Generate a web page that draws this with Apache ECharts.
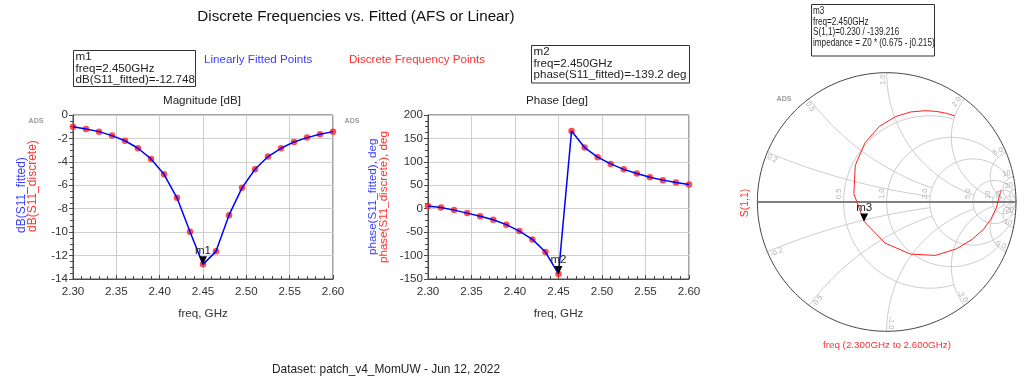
<!DOCTYPE html>
<html><head><meta charset="utf-8">
<script src="https://cdn.jsdelivr.net/npm/echarts@6/dist/echarts.min.js"></script>
<style>html,body{margin:0;padding:0;background:#fff}#c{width:1024px;height:385px}</style>
</head><body><div id="c"></div>
<script>
// ---------------- data ----------------
const freqGHz = [2.300,2.315,2.330,2.345,2.360,2.375,2.390,2.405,2.420,2.435,2.450,2.465,2.480,2.495,2.510,2.525,2.540,2.555,2.570,2.585,2.600];
const magDb = [-1.00,-1.20,-1.42,-1.76,-2.20,-2.84,-3.75,-5.06,-7.07,-9.97,-12.75,-11.64,-8.55,-6.22,-4.63,-3.55,-2.84,-2.30,-1.93,-1.65,-1.42];
const phaseDeg = [6.0,2.6,-3.0,-9.4,-16.0,-23.6,-34.0,-47.7,-65.5,-92.5,-139.2,166.0,130.5,110.0,95.6,84.0,75.0,67.0,61.0,56.0,51.6];
const markerFreq = 2.450;
const magAxis = {min:-14, max:0, interval:2};
const phaseAxis = {min:-150, max:200, interval:50};
const freqAxis = {min:2.30, max:2.60, interval:0.05};
const smithRCircles = [0.5, 1, 2, 5, 10, 20];
const smithRLimit = [2, 5, 10, 20, Infinity, Infinity];
const smithXArcs = [0.2, 0.5, 1, 2, 5, 10, 20];
const smithXLimit = [2, 2, 5, 10, 20, Infinity, Infinity];
const marker1Text = 'm1\nfreq=2.450GHz\ndB(S11_fitted)=-12.748';
const marker2Text = 'm2\nfreq=2.450GHz\nphase(S11_fitted)=-139.2 deg';
const marker3Text = 'm3\nfreq=2.450GHz\nS(1,1)=0.230 / -139.216\nimpedance = Z0 * (0.675 - j0.215)';

// ---------------- helpers ----------------
const FONT = '"Liberation Sans", Arial, sans-serif';
const BLUE = '#0000ff', RED = '#ff2020';
const mIdx = freqGHz.findIndex(f => Math.abs(f - markerFreq) < 1e-9);
const magPts = freqGHz.map((f,i) => [f, magDb[i]]);
const phPts = freqGHz.map((f,i) => [f, phaseDeg[i]]);
const s11Pts = freqGHz.map((f,i) => {
  const m = Math.pow(10, magDb[i]/20), a = phaseDeg[i]*Math.PI/180;
  return [m*Math.cos(a), m*Math.sin(a)];
});
function gam(r, x){ const d=(r+1)*(r+1)+x*x; return [(r*r-1+x*x)/d, 2*x/d]; }
function rCircle(r, xm){
  const N=240, tm = isFinite(xm) ? Math.atan(xm/(r+1)) : Math.PI/2, pts=[];
  for(let i=0;i<=N;i++){ const t=-tm+2*tm*i/N;
    if (Math.abs(Math.abs(t)-Math.PI/2)<1e-9) pts.push([1,0]); else pts.push(gam(r,(r+1)*Math.tan(t))); }
  return pts;
}
function xArc(x, rm){
  const N=200, ax=Math.abs(x), p0=Math.atan(ax), p1 = isFinite(rm)?Math.atan(ax/(rm+1)):0, pts=[];
  for(let i=0;i<=N;i++){ const p=p0+(p1-p0)*i/N;
    if (p<=1e-9) pts.push([1,0]); else { const b=ax/Math.tan(p); pts.push(gam(b-1,x)); } }
  return pts;
}
function lineS(data, color, width, z){
  return {type:'line', xAxisIndex:2, yAxisIndex:2, data, symbol:'none', showSymbol:false, silent:true, clip:false,
    lineStyle:{color, width}, z, animation:false};
}
function fAxis(i){
  return {gridIndex:i, type:'value', min:freqAxis.min, max:freqAxis.max, interval:freqAxis.interval,
    name:'freq, GHz', nameLocation:'middle', nameGap:29,
    nameTextStyle:{fontSize:11.6, color:'#333', fontFamily:FONT},
    axisLine:{show:true, onZero:false, lineStyle:{color:'#4a4a4a'}},
    axisTick:{show:true, inside:true, length:4, lineStyle:{color:'#4a4a4a'}},
    minorTick:{show:true, splitNumber:5, length:3, lineStyle:{color:'#4a4a4a'}},
    splitLine:{show:true, lineStyle:{color:'#cfcfcf'}},
    axisLabel:{fontSize:11.6, color:'#333', fontFamily:FONT, margin:7, formatter:v=>v.toFixed(2)}};
}
function vAxis(i, ax){
  return {gridIndex:i, type:'value', min:ax.min, max:ax.max, interval:ax.interval,
    axisLine:{show:true, onZero:false, lineStyle:{color:'#4a4a4a'}},
    axisTick:{show:true, inside:false, length:4, lineStyle:{color:'#4a4a4a'}},
    minorTick:{show:true, splitNumber:4, length:3, lineStyle:{color:'#4a4a4a'}},
    splitLine:{show:true, lineStyle:{color:'#cfcfcf'}},
    axisLabel:{fontSize:11.6, color:'#333', fontFamily:FONT, margin:5}};
}
function mark(name, coord){
  return {symbol:'triangle', symbolSize:8, symbolRotate:180, symbolOffset:[0,-4], silent:true, animation:false,
    itemStyle:{color:'#000'},
    label:{show:true, position:'top', distance:0, formatter:name, color:'#222', fontSize:11.5, fontFamily:FONT},
    data:[{coord}]};
}

// ---------------- series ----------------
const series = [
  {type:'scatter', xAxisIndex:0, yAxisIndex:0, data:magPts, symbol:'circle', symbolSize:6.5, itemStyle:{color:RED}, z:2, silent:true},
  {type:'line', xAxisIndex:0, yAxisIndex:0, data:magPts, symbol:'none', lineStyle:{color:BLUE, width:1.5}, z:3, silent:true,
    markPoint: mark('m1', magPts[mIdx])},
  {type:'scatter', xAxisIndex:1, yAxisIndex:1, data:phPts, symbol:'circle', symbolSize:6.5, itemStyle:{color:RED}, z:2, silent:true},
  {type:'line', xAxisIndex:1, yAxisIndex:1, data:phPts, symbol:'none', lineStyle:{color:BLUE, width:1.5}, z:3, silent:true,
    markPoint: mark('m2', phPts[mIdx])}
];
smithRCircles.forEach((r,i)=>series.push(lineS(rCircle(r, smithRLimit[i]), '#cccccc', 1, 1)));
smithXArcs.forEach((x,i)=>{ series.push(lineS(xArc(x, smithXLimit[i]), '#cccccc', 1, 1));
                            series.push(lineS(xArc(-x, smithXLimit[i]), '#cccccc', 1, 1)); });
series.push(lineS(rCircle(0, Infinity), '#444444', 1, 2));
series.push(lineS([[-1,0],[1,0]], '#808080', 2, 2));
const smithTrace = lineS(s11Pts, RED, 1, 4);
smithTrace.markPoint = mark('m3', s11Pts[mIdx]);
series.push(smithTrace);

const chart = echarts.init(document.getElementById('c'), null, {renderer:'canvas'});
chart.setOption({
  animation:false,
  backgroundColor:'#ffffff',
  grid:[
    {left:73, top:115, width:260, height:164, show:true, borderColor:'#4a4a4a', borderWidth:1},
    {left:428, top:115, width:261, height:164, show:true, borderColor:'#4a4a4a', borderWidth:1},
    {left:757.4, top:72.7, width:258.6, height:258.6, show:false}
  ],
  xAxis:[fAxis(0), fAxis(1), {gridIndex:2, type:'value', min:-1, max:1, show:false}],
  yAxis:[vAxis(0, magAxis), vAxis(1, phaseAxis), {gridIndex:2, type:'value', min:-1, max:1, show:false}],
  series
});

// ---------------- graphics (texts, boxes, smith labels) ----------------
function txt(x, y, text, st, extra){
  return Object.assign({type:'text', x, y, silent:true, z:100,
    style:Object.assign({text, fontFamily:FONT, fontSize:11.6, fill:'#222', align:'left', verticalAlign:'top'}, st||{})}, extra||{});
}
function box(x, y, w, h){
  return {type:'rect', silent:true, z:99, shape:{x, y, width:w, height:h}, style:{fill:'#fff', stroke:'#333', lineWidth:1}};
}
const g = [
  txt(356, 17, 'Discrete Frequencies vs. Fitted (AFS or Linear)', {fontSize:15.2, align:'center', verticalAlign:'middle', fill:'#111'}),
  box(73.5, 50.5, 122, 36), txt(75.5, 51.5, marker1Text, {lineHeight:11.3}),
  txt(204, 60, 'Linearly Fitted Points', {fill:'#3c3cff', verticalAlign:'middle'}),
  txt(349, 60, 'Discrete Frequency Points', {fill:'#ff3030', verticalAlign:'middle'}),
  box(531.5, 45.5, 158, 37.5), txt(533.5, 46.5, marker2Text, {lineHeight:11.3}),
  box(811.5, 4.5, 123, 51.5), txt(813, 5.5, marker3Text, {fontSize:10.2, lineHeight:10.8}, {scaleX:0.8}),
  txt(202, 101, 'Magnitude [dB]', {align:'center', verticalAlign:'middle'}),
  txt(557, 101, 'Phase [deg]', {align:'center', verticalAlign:'middle'}),
  txt(22, 233, 'dB(S11_fitted)', {fill:'#3c3cff', fontSize:12, verticalAlign:'middle'}, {rotation:Math.PI/2}),
  txt(33, 232, 'dB(S11_discrete)', {fill:'#ff3030', fontSize:12, verticalAlign:'middle'}, {rotation:Math.PI/2}),
  txt(373, 255, 'phase(S11_fitted), deg', {fill:'#3c3cff', fontSize:11.6, verticalAlign:'middle'}, {rotation:Math.PI/2}),
  txt(384, 263, 'phase(S11_discrete), deg', {fill:'#ff3030', fontSize:11.6, verticalAlign:'middle'}, {rotation:Math.PI/2}),
  txt(36, 121, 'ADS', {fontSize:7, fontWeight:'bold', fill:'#9a9a9a', align:'center', verticalAlign:'middle'}),
  txt(352, 121, 'ADS', {fontSize:7, fontWeight:'bold', fill:'#9a9a9a', align:'center', verticalAlign:'middle'}),
  txt(784, 99, 'ADS', {fontSize:7, fontWeight:'bold', fill:'#9a9a9a', align:'center', verticalAlign:'middle'}),
  txt(745, 203, 'S(1,1)', {fill:'#ff3030', fontSize:10.5, align:'center', verticalAlign:'middle'}, {rotation:Math.PI/2}),
  txt(887, 345, 'freq (2.300GHz to 2.600GHz)', {fill:'#ff3030', fontSize:9.8, align:'center', verticalAlign:'middle'}),
  txt(386, 370, 'Dataset: patch_v4_MomUW - Jun 12, 2022', {fontSize:11.9, align:'center', verticalAlign:'middle', fill:'#222'})
];
const fmtG = v => (Math.abs(v) < 10 ? Math.abs(v).toFixed(1) : String(Math.abs(v)));
const P = p => chart.convertToPixel({gridIndex:2}, p);
smithRCircles.forEach(r => {
  const p = P([(r-1)/(r+1), 0]);
  g.push(txt(p[0]-1, p[1]-3, fmtG(r), {fontSize:7.5, fill:'#b0b0b0', verticalAlign:'bottom'}, {rotation:Math.PI/2}));
});
smithXArcs.forEach(xv => [xv, -xv].forEach(x => {
  const e = gam(0, x), th = Math.atan2(e[1], e[0]);
  const p = P([e[0]*0.985, e[1]*0.985]);
  const label = (x < 0 ? '-' : '') + fmtG(x);
  if (e[0] >= 0) g.push(txt(p[0], p[1], label, {fontSize:7.5, fill:'#b0b0b0', align:'right', verticalAlign:'bottom'}, {rotation:th}));
  else g.push(txt(p[0], p[1], label, {fontSize:7.5, fill:'#b0b0b0', align:'left', verticalAlign:'top'}, {rotation:th-Math.PI}));
}));
chart.setOption({graphic:g});
</script></body></html>
